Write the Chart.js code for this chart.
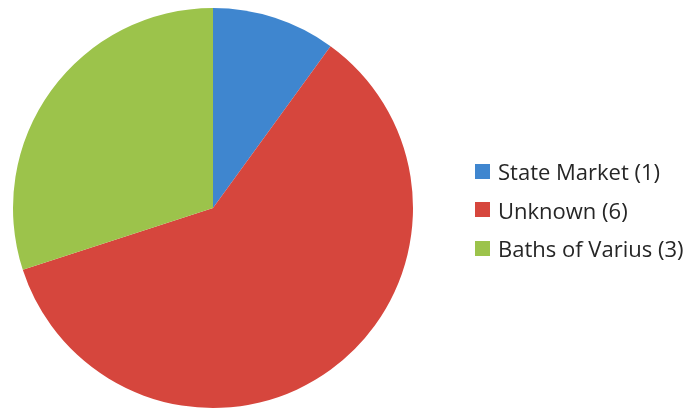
<!DOCTYPE html>
<html lang="en">
<head>
    <meta charset="UTF-8">
    <script src="https://cdn.jsdelivr.net/npm/chart.js"></script>
    <title>Sources</title>
    <style>
        body { margin: 0; background: #fff; }
        #wrap { position: relative; width: 686px; height: 410px; }
        #legend { position: absolute; left: 475px; top: 152px; font-family: "Open Sans", sans-serif; font-size: 22px; color: #262626; }
        .item { display: flex; align-items: center; height: 38.5px; }
        .box { width: 15px; height: 15px; margin-right: 8px; }
    </style>
</head>
<body>
    <div id="wrap">
        <canvas id="pie" width="686" height="410"></canvas>
        <div id="legend"></div>
    </div>

    <script>
        const labels = ['State Market (1)', 'Unknown (6)', 'Baths of Varius (3)'];
        const counts = [1, 6, 3];
        const colors = ['#3f86cf', '#d6463d', '#9cc34b'];

        const ctx = document.getElementById('pie').getContext('2d');
        const chart = new Chart(ctx, {
            type: 'pie',
            data: {
                labels: labels,
                datasets: [{
                    data: counts,
                    backgroundColor: colors,
                    borderWidth: 0,
                }],
            },
            options: {
                responsive: false,
                animation: false,
                layout: { padding: { left: 13, top: 8, right: 273, bottom: 2 } },
                plugins: {
                    legend: { display: false },
                    tooltip: { enabled: false },
                },
            },
        });

        // simple html legend
        const legend = document.getElementById('legend');
        labels.forEach((lbl, i) => {
            const row = document.createElement('div');
            row.className = 'item';
            row.innerHTML = `<span class="box" style="background:${colors[i]}"></span><span>${lbl}</span>`;
            legend.appendChild(row);
        });
    </script>
</body>
</html>
